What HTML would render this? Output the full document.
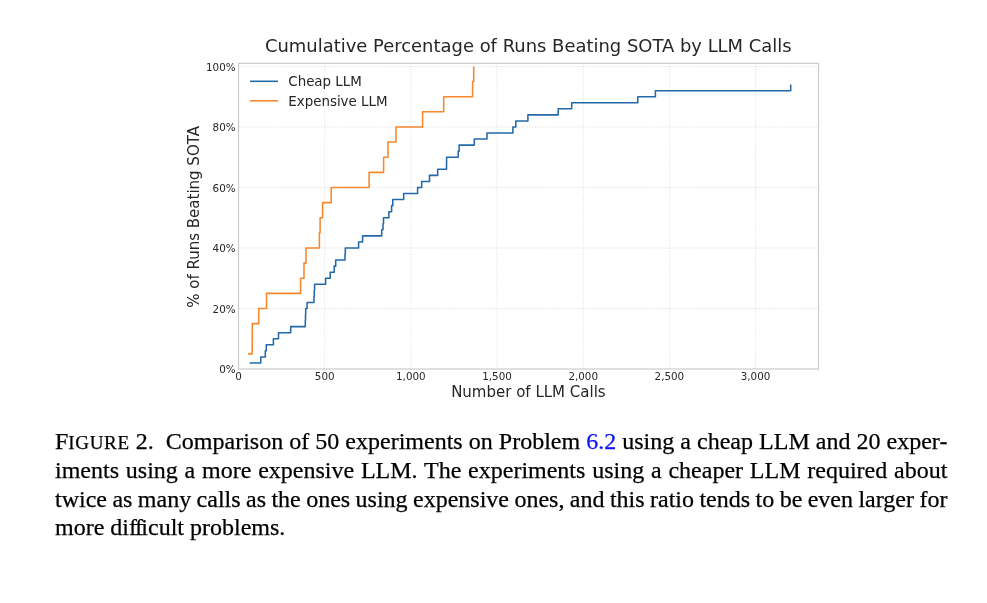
<!DOCTYPE html>
<html lang="en"><head><meta charset="utf-8"><title>Figure 2</title>
<style>
html,body{margin:0;padding:0;background:#fff;}
body{width:987px;height:603px;position:relative;overflow:hidden;}
svg{position:absolute;left:0;top:0;}
svg text{font-family:"DejaVu Sans","Liberation Sans",sans-serif;fill:#262626;}
.tick text{font-size:10.35px;}
.cap{position:absolute;left:55px;top:427.7px;width:892.4px;font-family:"Liberation Serif","Times New Roman",serif;font-size:24px;line-height:28.57px;color:#000;-webkit-text-stroke:0.25px #000;}
.cap div{word-spacing:-1.5px;text-align:justify;text-align-last:justify;white-space:nowrap;}
.cap div.first{position:relative;top:-0.6px;}
.cap div.last{word-spacing:0;text-align:left;text-align-last:left;}
.sc{font-size:19px;letter-spacing:0.65px;line-height:1;}
.ffi{letter-spacing:-1.6px;}
.lnk{color:#0a14f5;-webkit-text-stroke:0.25px #0a14f5;}
</style></head>
<body>
<svg width="987" height="603" viewBox="0 0 987 603">
<rect x="0" y="0" width="987" height="603" fill="#fff"/>
<g stroke="#cccccc" stroke-width="0.8" stroke-dasharray="1.3 1.3" opacity="0.65" fill="none"><line x1="324.68" x2="324.68" y1="63.4" y2="369.0"/><line x1="410.85" x2="410.85" y1="63.4" y2="369.0"/><line x1="497.02" x2="497.02" y1="63.4" y2="369.0"/><line x1="583.2" x2="583.2" y1="63.4" y2="369.0"/><line x1="669.38" x2="669.38" y1="63.4" y2="369.0"/><line x1="755.55" x2="755.55" y1="63.4" y2="369.0"/><line x1="238.5" x2="818.5" y1="308.49" y2="308.49"/><line x1="238.5" x2="818.5" y1="247.98" y2="247.98"/><line x1="238.5" x2="818.5" y1="187.48" y2="187.48"/><line x1="238.5" x2="818.5" y1="126.97" y2="126.97"/><line x1="238.5" x2="818.5" y1="66.46" y2="66.46"/></g>
<rect x="238.5" y="63.4" width="580.0" height="305.6" fill="none" stroke="#cccccc" stroke-width="1.2"/>
<path d="M249.6 362.95H260.8V356.9H265.3V350.85H266.3V344.8H273.4V338.75H278.5V332.7H290.7V326.64H305.3V320.59H305.5V314.54H305.7V308.49H307.1V302.44H314.0V296.39H314.3V290.34H314.6V284.29H325.6V278.24H330.2V272.19H334.2V266.14H335.7V260.09H345.0V254.03H345.3V247.98H358.6V241.93H362.6V235.88H381.7V229.83H383.0V223.78H383.5V217.73H388.9V211.68H391.6V205.63H392.8V199.58H403.7V193.53H417.6V187.48H421.7V181.43H429.5V175.37H437.7V169.32H446.5V163.27H446.6V157.22H458.2V151.17H459.1V145.12H474.3V139.07H487.0V133.02H512.9V126.97H515.8V120.92H527.9V114.87H558.2V108.82H571.7V102.76H637.8V96.71H655.4V90.66H790.7V84.61" fill="none" stroke="#2369aa" stroke-width="1.55" stroke-linejoin="round"/>
<path d="M248.1 353.87H252.2V338.75H252.3V323.62H258.7V308.49H266.5V293.37H300.6V278.24H304.0V263.11H306.0V247.98H319.4V232.86H320.1V217.73H322.6V202.6H331.2V187.48H369.1V172.35H383.6V157.22H388.0V142.09H396.0V126.97H422.6V111.84H443.7V96.71H472.6V81.59H473.7V66.46" fill="none" stroke="#f6872c" stroke-width="1.55" stroke-linejoin="round"/>
<line x1="250" x2="278" y1="81.3" y2="81.3" stroke="#2369aa" stroke-width="1.55"/>
<line x1="250" x2="278" y1="100.8" y2="100.8" stroke="#f6872c" stroke-width="1.55"/>
<text x="288.3" y="86.1" font-size="13.4">Cheap LLM</text>
<text x="288.3" y="105.6" font-size="13.4">Expensive LLM</text>
<g class="tick"><text x="238.5" y="379.6" text-anchor="middle">0</text><text x="324.68" y="379.6" text-anchor="middle">500</text><text x="410.85" y="379.6" text-anchor="middle">1,000</text><text x="497.02" y="379.6" text-anchor="middle">1,500</text><text x="583.2" y="379.6" text-anchor="middle">2,000</text><text x="669.38" y="379.6" text-anchor="middle">2,500</text><text x="755.55" y="379.6" text-anchor="middle">3,000</text><text x="235.6" y="373.25" text-anchor="end">0%</text><text x="235.6" y="312.74" text-anchor="end">20%</text><text x="235.6" y="252.23" text-anchor="end">40%</text><text x="235.6" y="191.73" text-anchor="end">60%</text><text x="235.6" y="131.22" text-anchor="end">80%</text><text x="235.6" y="70.71" text-anchor="end">100%</text></g>
<text x="528.3" y="51.9" font-size="17.95" text-anchor="middle">Cumulative Percentage of Runs Beating SOTA by LLM Calls</text>
<text x="528.4" y="396.8" font-size="15" text-anchor="middle">Number of LLM Calls</text>
<text transform="translate(199.1,216.9) rotate(-90)" font-size="15" text-anchor="middle">% of Runs Beating SOTA</text>
</svg>
<div class="cap">
<div class="first">F<span class="sc">IGURE</span> 2.&nbsp; Comparison of 50 experiments on Problem <span class="lnk">6.2</span> using a cheap LLM and 20 exper-</div>
<div>iments using a more expensive LLM. The experiments using a cheaper LLM required about</div>
<div>twice as many calls as the ones using expensive ones, and this ratio tends to be even larger for</div>
<div class="last">more di<span class="ffi">ff</span>icult problems.</div>
</div>
</body></html>
